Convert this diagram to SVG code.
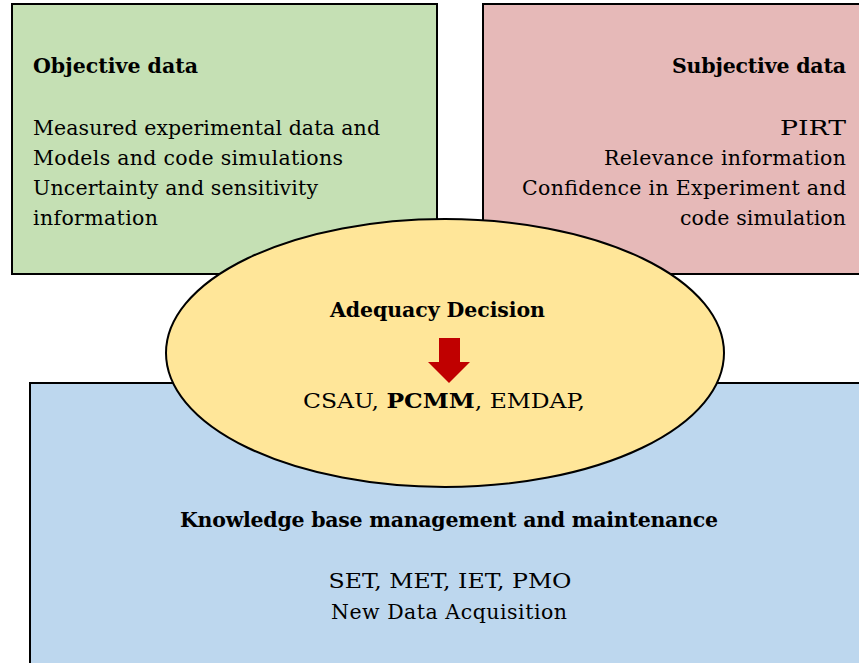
<svg xmlns="http://www.w3.org/2000/svg" width="859" height="663" viewBox="0 0 859 663">
  <style>
    .box { stroke: #000; stroke-width: 2; }
    .b { font-weight: bold; }
    .mid { text-anchor: middle; }
    .end { text-anchor: end; }
  </style>
  <rect width="859" height="663" fill="#fff"/>

  <g font-family="'DejaVu Serif', serif" font-size="20.5" fill="#000">
    <g id="objective-data">
      <rect class="box" x="12" y="4" width="425" height="270" fill="#C5E0B4"/>
      <text class="b" x="33" y="73" textLength="165" lengthAdjust="spacing">Objective data</text>
      <text x="33" y="135" textLength="347" lengthAdjust="spacing">Measured experimental data and</text>
      <text x="33" y="165" textLength="310" lengthAdjust="spacing">Models and code simulations</text>
      <text x="33" y="195" textLength="285" lengthAdjust="spacing">Uncertainty and sensitivity</text>
      <text x="33" y="225" textLength="125" lengthAdjust="spacing">information</text>
    </g>

    <g id="subjective-data">
      <rect class="box" x="483" y="4" width="390" height="270" fill="#E6B9B8"/>
      <text class="b end" x="846" y="73" textLength="174" lengthAdjust="spacing">Subjective data</text>
      <text class="end" x="846" y="135" textLength="66" lengthAdjust="spacingAndGlyphs">PIRT</text>
      <text class="end" x="846" y="165" textLength="242" lengthAdjust="spacing">Relevance information</text>
      <text class="end" x="846" y="195" textLength="324" lengthAdjust="spacing">Confidence in Experiment and</text>
      <text class="end" x="846" y="225" textLength="166" lengthAdjust="spacing">code simulation</text>
    </g>

    <g id="knowledge-base">
      <rect class="box" x="30" y="383" width="845" height="300" fill="#BDD7EE"/>
      <text class="b mid" x="449" y="527" textLength="538" lengthAdjust="spacing">Knowledge base management and maintenance</text>
      <text class="mid" x="450" y="588" textLength="243" lengthAdjust="spacingAndGlyphs">SET, MET, IET, PMO</text>
      <text class="mid" x="449" y="619" textLength="236" lengthAdjust="spacing">New Data Acquisition</text>
    </g>

    <g id="adequacy-decision">
      <ellipse class="box" cx="445" cy="353" rx="279" ry="134" fill="#FFE699"/>
      <text class="b mid" x="437.5" y="317" textLength="215" lengthAdjust="spacing">Adequacy Decision</text>
      <text class="mid" x="444" y="408" textLength="282" lengthAdjust="spacingAndGlyphs">CSAU, <tspan class="b">PCMM</tspan>, EMDAP,</text>
    </g>
  </g>

  <g id="connectors">
    <polygon points="439,338 460,338 460,362 470,362 449,383 428,362 439,362" fill="#C00000"/>
  </g>
</svg>
